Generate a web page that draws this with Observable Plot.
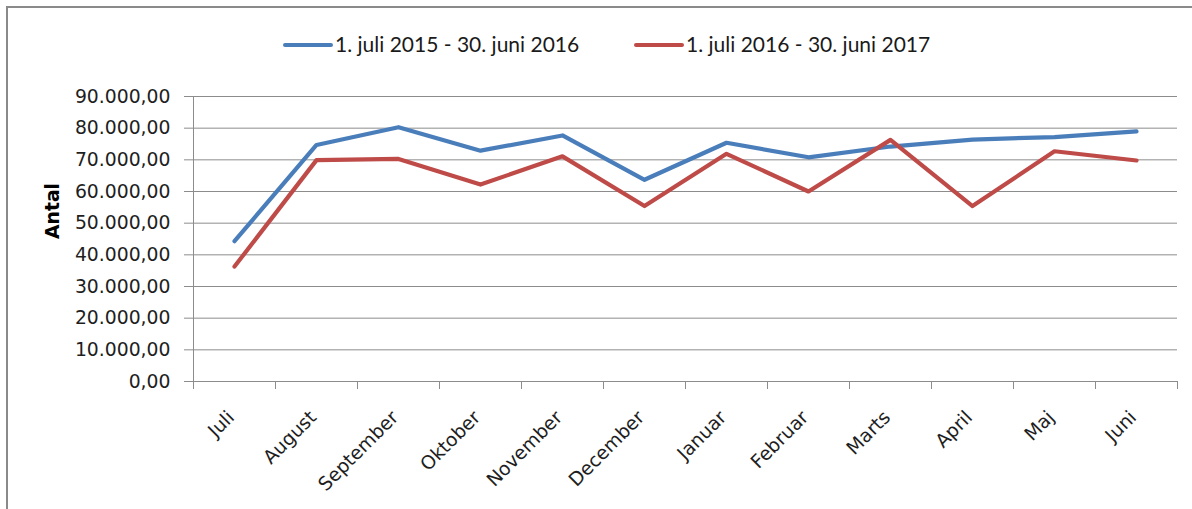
<!DOCTYPE html>
<html>
<head>
<meta charset="utf-8">
<script src="https://cdn.jsdelivr.net/npm/d3@7"></script>
<script src="https://cdn.jsdelivr.net/npm/@observablehq/plot@0.6"></script>
<style>
  html, body { margin: 0; padding: 0; background: #fff; overflow: hidden; }
  #wrap { position: relative; width: 1192px; height: 509px; overflow: hidden; }
  #frame { position: absolute; left: 6px; top: 6px; width: 1400px; height: 700px; border-left: 2px solid #8a8a8a; border-top: 2px solid #8a8a8a; border-right: none; border-bottom: none; box-sizing: border-box; }
  #chart { position: absolute; left: 0; top: 0; }
  .leg { position: absolute; top: 33px; height: 21px; line-height: 21px; font-family: Lato, sans-serif; font-size: 21px; color: #1a1a1a; white-space: nowrap; }
  .sw { position: absolute; top: 10px; width: 50px; height: 4px; border-radius: 2px; }
  .lt { position: absolute; left: 52px; top: 0; }
</style>
</head>
<body>
<div id="wrap">
  <div id="frame"></div>
  <div id="chart"></div>
  <div id="legend"></div>
</div>
<script>
const months = ["Juli","August","September","Oktober","November","December","Januar","Februar","Marts","April","Maj","Juni"];
const seriesNames = ["1. juli 2015 - 30. juni 2016", "1. juli 2016 - 30. juni 2017"];
const series2015 = [44300, 74700, 80300, 72900, 77700, 63700, 75400, 70800, 74200, 76400, 77200, 79000];
const series2016 = [36300, 69900, 70300, 62200, 71100, 55400, 71900, 60000, 76300, 55400, 72700, 69800];
const yTicks = [0, 10000, 20000, 30000, 40000, 50000, 60000, 70000, 80000, 90000];
const colors = ["#4a7ebb", "#be4b48"];
const yLabel = "Antal";

const rows = [];
months.forEach((m, i) => {
  rows.push({month: m, value: series2015[i], series: seriesNames[0]});
  rows.push({month: m, value: series2016[i], series: seriesNames[1]});
});

const fmt = d3.formatLocale({decimal: ",", thousands: ".", grouping: [3], currency: ["", ""]}).format(",.2f");

const W = 1192, H = 509, ML = 193, MR = 15, MT = 96, MB = 128;
const bw = (W - ML - MR) / months.length;
const grid = "#8c8c8c";
const ink = "#1e1e1e";

const chart = Plot.plot({
  width: W,
  height: H,
  marginLeft: ML,
  marginRight: MR,
  marginTop: MT,
  marginBottom: MB,
  style: {fontFamily: "'DejaVu Sans', sans-serif", fontSize: "18.8px", background: "transparent", color: ink},
  x: {type: "band", domain: months, padding: 0, axis: null},
  y: {domain: [0, 90000]},
  color: {domain: seriesNames, range: colors},
  marks: [
    Plot.gridY(yTicks, {stroke: grid, strokeOpacity: 1}),
    Plot.axisY({ticks: yTicks, tickFormat: fmt, tickSize: 9, tickPadding: 14, stroke: grid, fill: ink, label: null}),
    Plot.ruleY([0], {stroke: grid}),
    Plot.ruleX([months[0]], {x: d => d, dx: -bw / 2, y1: 90000, y2: 0, stroke: grid}),
    Plot.ruleX(months, {x: d => d, dx: -bw / 2, y1: 0, y2: 0, insetBottom: -8, stroke: grid}),
    Plot.ruleX([months[months.length - 1]], {x: d => d, dx: bw / 2, y1: 0, y2: 0, insetBottom: -8, stroke: grid}),
    Plot.line(rows, {x: "month", y: "value", z: "series", stroke: "series", strokeWidth: 4.2, strokeLinejoin: "round", strokeLinecap: "round"}),
    Plot.text(months, {x: d => d, y: 0, text: d => d, rotate: -45, textAnchor: "end", lineAnchor: "bottom", dx: 1, dy: 37, fill: ink}),
    Plot.text([yLabel], {frameAnchor: "left", text: d => d, dx: -148, rotate: -90, lineAnchor: "top", fontWeight: "bold", fill: "#000"})
  ]
});
document.getElementById("chart").appendChild(chart);

const legend = document.getElementById("legend");
const legLeft = [283, 634];
seriesNames.forEach((name, i) => {
  const item = document.createElement("div");
  item.className = "leg";
  item.style.left = legLeft[i] + "px";
  const sw = document.createElement("div");
  sw.className = "sw";
  sw.style.background = colors[i];
  const t = document.createElement("span");
  t.className = "lt";
  t.textContent = name;
  item.appendChild(sw);
  item.appendChild(t);
  legend.appendChild(item);
});
</script>
</body>
</html>
